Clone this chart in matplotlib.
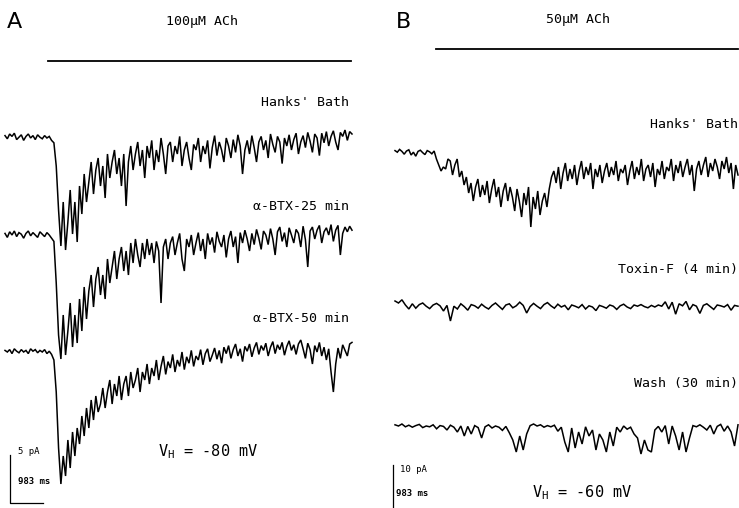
import numpy as np
import matplotlib
matplotlib.use("Agg")
import matplotlib.pyplot as plt

plt.rcParams['mathtext.fontset'] = 'custom'
plt.rcParams['mathtext.rm'] = 'DejaVu Sans Mono'

# ---------------- data (current deflections, pA; negative = inward) ----------------
a_hanks = [0.3,-0.1,0.5,0.2,0.6,-0.2,0.1,0.4,-0.3,0.2,0.5,0.0,0.3,-0.2,0.4,0.1,-0.1,0.3,0.0,0.2,-0.3,-0.6,
           -3.5,-9.0,-13.5,-8.0,-14.0,-10.5,-6.5,-12.0,-8.0,-13.0,
           -6.0,-9.5,-4.5,-8.0,-5.5,-3.0,-7.0,-4.0,-2.5,-6.0,
           -3.5,-7.5,-2.0,-5.0,-3.0,-1.5,-4.5,-2.5,-6.0,-2.0,
           -8.5,-3.0,-1.0,-4.0,-2.0,-0.5,-3.5,-1.5,-5.0,-1.0,
           -2.5,-0.3,-4.0,-1.5,-3.0,0.0,-2.0,-4.5,-1.0,-0.5,
           -3.0,-1.0,-2.0,0.2,-3.5,-1.5,-0.5,-2.5,-4.0,-0.8,
           -1.5,0.0,-3.0,-1.0,-2.0,-0.3,-3.8,-1.2,0.3,-2.2,
           -0.5,-1.5,-3.0,0.0,-1.0,-2.5,-0.2,-1.8,0.4,-1.0,
           -4.5,-1.5,-0.3,-2.0,0.3,-1.2,-3.0,-0.5,0.2,-1.5,
           -0.3,-2.5,0.5,-0.8,-1.8,0.2,-0.5,-3.2,0.0,-1.0,
           0.4,-1.5,-0.2,0.6,-2.0,-0.5,0.3,-1.2,0.7,-0.4,
           -1.8,0.5,0.0,-2.2,0.6,-0.6,0.8,-1.0,0.2,0.9,
           -0.5,-1.5,0.7,0.2,1.0,-0.3,0.8,0.5]
a_btx25 = [0.2,-0.3,0.4,0.0,0.5,-0.2,0.3,0.1,-0.4,0.2,0.5,-0.1,0.3,0.0,-0.3,0.4,0.1,-0.2,0.3,0.0,-0.4,-0.8,
           -6.0,-12.5,-15.5,-10.0,-15.0,-12.0,-8.5,-14.0,-10.0,-13.5,
           -8.0,-12.0,-6.5,-10.5,-7.0,-5.0,-9.0,-5.5,-4.0,-7.5,
           -5.0,-8.0,-3.0,-6.0,-4.0,-2.0,-5.5,-3.0,-1.5,-4.5,
           -2.0,-5.0,-1.0,-3.5,-0.5,-2.5,-4.0,-1.0,-3.0,-0.5,
           -2.5,-1.0,-3.5,-0.8,-2.0,-8.5,-1.5,-0.5,-3.0,-1.0,
           -0.2,-2.5,-1.0,0.2,-3.0,-4.5,-0.5,-1.5,0.0,-2.5,
           -1.0,0.3,-2.0,-0.5,-3.0,0.2,-1.2,-0.3,-2.2,0.4,
           -0.8,-1.5,0.0,-2.8,-0.5,0.5,-1.5,-0.2,-3.5,0.3,
           -1.0,0.6,-0.5,-2.0,0.2,-1.2,0.7,-0.4,-1.8,0.5,
           0.0,-1.2,0.8,-0.5,-2.5,0.4,1.0,-0.8,0.3,-1.5,
           0.9,0.0,-1.0,0.7,0.2,-1.5,1.1,-0.6,-4.0,0.5,
           1.0,-0.5,0.6,1.2,-1.0,0.4,0.9,0.0,1.3,-0.8,
           0.6,1.2,-2.5,0.2,1.0,0.4,1.1,0.6]
a_btx50 = [0.2,0.0,0.3,-0.2,0.4,0.1,-0.1,0.3,0.0,0.2,-0.2,0.4,0.1,0.3,-0.1,0.2,0.0,0.3,-0.2,0.1,-0.3,-1.0,
           -5.0,-12.0,-16.5,-13.0,-15.5,-11.0,-14.5,-10.0,-13.0,-9.5,
           -11.5,-8.0,-10.5,-7.0,-9.5,-6.0,-8.5,-5.5,-7.5,-6.5,
           -4.5,-7.0,-5.0,-3.5,-6.5,-4.0,-5.5,-3.0,-6.0,-4.0,
           -3.0,-5.5,-2.5,-4.5,-3.5,-2.0,-5.0,-2.5,-3.5,-1.5,
           -4.0,-2.0,-3.0,-1.0,-3.5,-1.8,-0.5,-2.8,-1.2,-2.0,
           -0.3,-2.5,-1.0,-1.8,0.0,-2.2,-0.6,-1.4,0.2,-1.8,
           -0.5,-1.0,0.3,-1.6,-0.2,0.4,-1.2,-0.4,0.5,-0.9,
           0.2,-1.4,0.6,-0.2,0.8,-0.8,0.3,1.0,-0.5,0.4,
           -1.2,0.7,0.1,1.0,-0.6,0.5,1.2,-0.3,0.8,0.2,
           1.1,-0.5,0.6,1.3,-0.2,0.9,0.3,1.2,-0.4,0.7,
           1.4,0.2,0.9,-0.3,1.0,1.5,0.4,-0.8,1.1,0.3,
           -1.5,0.8,0.0,1.2,-0.5,0.6,-1.0,0.4,-2.5,-5.0,
           -1.5,0.5,-0.8,0.9,0.2,-0.5,1.0,1.2]
b_hanks = [0.6,0.2,0.9,0.4,-0.3,0.5,0.8,-0.5,0.2,-0.8,0.4,0.7,0.1,-0.4,0.6,0.3,-0.2,0.5,-1.5,-3.0,
           -4.5,-3.5,-4.0,-1.5,-2.0,-5.5,-3.0,-1.5,-6.0,-4.5,
           -8.0,-6.0,-10.0,-7.5,-12.0,-8.5,-6.5,-11.0,-8.0,-10.5,
           -7.0,-12.5,-9.0,-6.5,-11.0,-8.5,-13.5,-9.5,-7.5,-12.0,
           -8.5,-11.0,-14.5,-9.0,-12.0,-16.0,-10.0,-13.0,-8.5,-18.5,
           -11.0,-14.0,-9.5,-15.5,-12.0,-10.0,-13.5,-9.0,-6.0,-4.5,
           -7.5,-3.5,-9.0,-5.0,-2.5,-7.0,-4.0,-6.5,-3.0,-8.0,
           -4.5,-2.0,-6.5,-3.5,-5.5,-2.5,-9.0,-4.0,-6.0,-3.0,
           -7.5,-4.5,-2.5,-6.0,-3.5,-5.5,-2.0,-7.0,-4.0,-5.0,
           -3.0,-8.0,-4.5,-2.0,-6.5,-3.5,-5.5,-1.5,-7.0,-4.0,
           -3.0,-6.0,-2.5,-8.5,-4.0,-5.5,-2.0,-6.5,-3.5,-4.5,
           -1.5,-7.0,-3.0,-5.0,-2.0,-6.0,-3.5,-1.5,-5.5,-3.0,
           -9.5,-4.0,-2.0,-5.5,-3.0,-1.0,-6.0,-2.5,-4.5,-1.5,
           -3.5,-6.5,-2.0,-4.0,-1.0,-5.0,-2.5,-9.0,-3.0,-5.5]
b_toxin = [1.5,1.0,1.8,0.5,-0.5,0.8,-0.3,0.6,1.0,0.2,-0.4,0.5,0.9,0.3,-1.0,0.4,-3.5,0.2,-0.5,0.8,
           0.1,-0.8,0.6,0.3,-0.3,0.7,0.0,-0.5,0.4,1.0,0.2,-0.6,0.5,0.8,-0.2,0.3,1.2,0.4,-1.5,0.1,
           0.9,0.2,-0.4,0.6,1.1,0.3,-0.3,0.7,0.0,0.4,-0.7,0.5,0.2,-0.2,0.6,-0.5,0.3,0.0,-0.9,0.4,
           0.1,-0.3,0.5,0.2,-0.6,0.3,0.7,0.0,-0.4,0.5,0.2,0.6,0.1,-0.2,0.4,0.0,0.5,0.2,1.3,-0.5,
           1.2,-1.8,0.8,0.3,1.4,-0.7,0.6,0.2,-1.6,0.4,0.8,0.1,-0.6,0.5,0.3,0.0,0.6,-0.8,0.4,0.2]
b_wash = [0.8,0.5,1.0,0.3,0.7,0.2,0.6,0.9,0.1,0.5,
          0.3,0.8,-0.2,0.6,0.4,-0.5,0.7,0.2,-1.0,0.5,
          -2.0,0.4,-1.5,0.6,0.1,-2.5,0.3,0.8,0.0,0.5,
          0.2,-0.6,0.4,-1.2,-3.0,-6.0,-2.0,-5.5,-1.5,0.6,
          1.0,0.5,0.8,0.2,0.6,0.3,0.7,-0.8,0.2,-3.5,
          -6.0,0.0,-5.0,-1.0,-4.0,0.3,-2.0,-0.5,-5.5,-1.5,
          -3.0,-6.0,-1.0,-4.5,0.2,-1.0,0.5,-0.3,0.2,-1.5,
          -2.5,-6.5,-3.0,-5.5,-6.0,-0.5,0.4,-1.0,0.6,-4.0,
          0.5,-2.0,-5.5,-1.0,-6.0,-2.5,0.6,0.3,0.8,0.2,
          -0.5,0.7,-1.5,0.4,0.9,-0.8,0.5,-1.0,-4.5,0.8]

labels_a = ["Hanks' Bath", "\u03b1-BTX-25 min", "\u03b1-BTX-50 min"]
labels_b = ["Hanks' Bath", "Toxin-F (4 min)", "Wash (30 min)"]

# ---------------- layout (figure pixels) ----------------
W, H = 739, 508
fig = plt.figure(figsize=(W / 100, H / 100), dpi=100)
ax = fig.add_axes([0, 0, 1, 1])
ax.set_xlim(0, W)
ax.set_ylim(H, 0)
ax.axis('off')

K_A = 8.0   # px per pA, panel A
K_B = 4.0   # px per pA, panel B
A_X0, A_X1 = 5, 352
B_X0, B_X1 = 395, 738
A_BASE = [138, 235, 352]
B_BASE = [153, 307, 428]
A_LAB_Y = [103, 206, 318]
B_LAB_Y = [125, 270, 384]

def trace(vals, x0, x1, base, k):
    v = np.asarray(vals, dtype=float)
    x = np.linspace(x0, x1, len(v))
    ax.plot(x, base - v * k, color='black', lw=1.1, solid_joinstyle='miter')

for vals, base in zip([a_hanks, a_btx25, a_btx50], A_BASE):
    trace(vals, A_X0, A_X1, base, K_A)
for vals, base in zip([b_hanks, b_toxin, b_wash], B_BASE):
    trace(vals, B_X0, B_X1, base, K_B)

mono = 'DejaVu Sans Mono'
for lab, y in zip(labels_a, A_LAB_Y):
    ax.text(349, y, lab, ha='right', va='center', family=mono, fontsize=9.5)
for lab, y in zip(labels_b, B_LAB_Y):
    ax.text(738, y, lab, ha='right', va='center', family=mono, fontsize=9.5)

# panel letters and titles
ax.text(14, 22, 'A', ha='center', va='center', family='DejaVu Sans', fontsize=16)
ax.text(403, 22, 'B', ha='center', va='center', family='DejaVu Sans', fontsize=16)
ax.text(202, 22, '100\u00b5M ACh', ha='center', va='center', family=mono, fontsize=9.5)
ax.text(578, 20, '50\u00b5M ACh', ha='center', va='center', family=mono, fontsize=9.5)
ax.plot([48, 351], [61, 61], color='black', lw=1.3)
ax.plot([436, 738], [49, 49], color='black', lw=1.3)

# scale bars
ax.plot([10, 10, 43], [455, 503, 503], color='black', lw=0.9)
ax.text(18, 451, '5 pA', ha='left', va='center', family=mono, fontsize=6.5)
ax.text(18, 482, '983 ms', ha='left', va='center', family=mono, fontsize=6.5, weight='bold')
ax.plot([393, 393], [465, 508], color='black', lw=0.9)
ax.text(400, 469, '10 pA', ha='left', va='center', family=mono, fontsize=6.5)
ax.text(396, 493, '983 ms', ha='left', va='center', family=mono, fontsize=6.5, weight='bold')

ax.text(158, 452, r'$\mathrm{V_H}$ = -80 mV', ha='left', va='center', family=mono, fontsize=11)
ax.text(532, 493, r'$\mathrm{V_H}$ = -60 mV', ha='left', va='center', family=mono, fontsize=11)

fig.savefig('out.png', dpi=100, facecolor='white')
